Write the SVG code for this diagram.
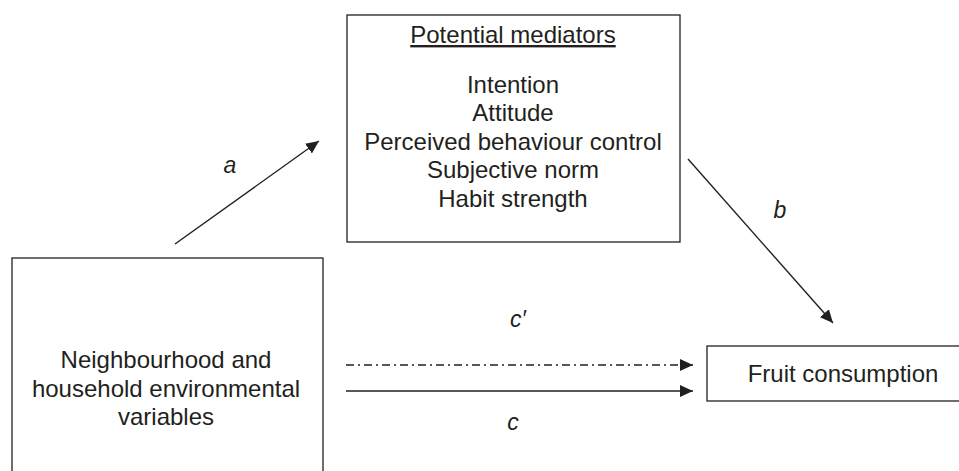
<svg xmlns="http://www.w3.org/2000/svg" width="959" height="471" viewBox="0 0 959 471">
<style>
.box{fill:#fff;stroke:#231f20;stroke-width:1.3}
.t{font-family:"Liberation Sans",Arial,sans-serif;font-size:24px;fill:#231f20;text-anchor:middle}
.lbl{font-family:"Liberation Sans",Arial,sans-serif;font-size:23px;font-style:italic;fill:#231f20;text-anchor:middle}
.edge{stroke:#231f20;stroke-width:1.4;fill:none;marker-end:url(#ah)}
</style>
<defs>
<marker id="ah" markerUnits="userSpaceOnUse" markerWidth="14" markerHeight="12" refX="13" refY="6" orient="auto">
<path d="M0,0 L13,6 L0,12 Z" fill="#231f20"/>
</marker>
</defs>
<rect width="959" height="471" fill="#fff"/>
<g id="mediators">
<rect class="box" x="347" y="15" width="333" height="227"/>
<text class="t" x="513" y="43" text-decoration="underline">Potential mediators</text>
<text class="t" x="513" y="93">Intention</text>
<text class="t" x="513" y="121">Attitude</text>
<text class="t" x="513" y="150">Perceived behaviour control</text>
<text class="t" x="513" y="178">Subjective norm</text>
<text class="t" x="513" y="207">Habit strength</text>
</g>
<g id="environment">
<rect class="box" x="12" y="258" width="311" height="240"/>
<text class="t" x="166" y="368">Neighbourhood and</text>
<text class="t" x="166" y="397">household environmental</text>
<text class="t" x="166" y="425">variables</text>
</g>
<g id="fruit">
<rect class="box" x="707" y="346" width="270" height="55"/>
<text class="t" x="843" y="382">Fruit consumption</text>
</g>
<g id="connectors">
<line class="edge" x1="175" y1="244" x2="319" y2="141"/>
<line class="edge" x1="688" y1="159" x2="833" y2="323"/>
<line class="edge" x1="346" y1="365" x2="693" y2="365" stroke-dasharray="8 4 2 4"/>
<line class="edge" x1="346" y1="391" x2="693" y2="391"/>
<text class="lbl" x="230" y="173">a</text>
<text class="lbl" x="780" y="218">b</text>
<text class="lbl" x="518" y="327">c′</text>
<text class="lbl" x="513" y="430">c</text>
</g>
</svg>
